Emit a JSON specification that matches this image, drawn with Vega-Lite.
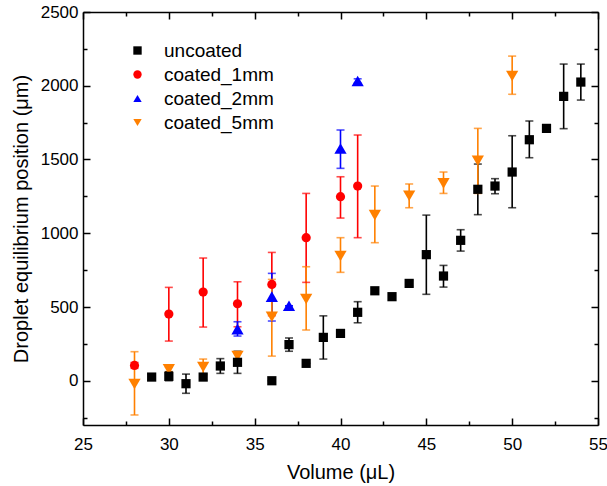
{
  "$schema": "https://vega.github.io/schema/vega-lite/v6.json",
  "autosize": "none",
  "width": 515,
  "height": 413,
  "padding": {"left": 83, "top": 12, "right": 9, "bottom": 61},
  "background": "white",
  "config": {
    "view": {"stroke": null},
    "font": "Liberation Sans",
    "axis": {
      "domainColor": "black",
      "domainWidth": 1.5,
      "tickColor": "black",
      "tickWidth": 1.5,
      "grid": false,
      "labelColor": "black",
      "titleColor": "black",
      "labelFont": "Liberation Sans",
      "titleFont": "Liberation Sans",
      "labelFontSize": 17,
      "titleFontSize": 20,
      "titleFontWeight": "normal"
    },
    "legend": {
      "labelFont": "Liberation Sans",
      "labelFontSize": 19,
      "labelColor": "black"
    }
  },
  "data": {
    "values": [
      {"series": "uncoated", "volume": 29, "position": 25, "lo": 5, "hi": 45},
      {"series": "uncoated", "volume": 30, "position": 30, "lo": 0, "hi": 60},
      {"series": "uncoated", "volume": 31, "position": -20, "lo": -85, "hi": 45},
      {"series": "uncoated", "volume": 32, "position": 25, "lo": 5, "hi": 45},
      {"series": "uncoated", "volume": 33, "position": 100, "lo": 50, "hi": 150},
      {"series": "uncoated", "volume": 34, "position": 125, "lo": 50, "hi": 200},
      {"series": "uncoated", "volume": 36, "position": 0, "lo": 0, "hi": 0},
      {"series": "uncoated", "volume": 37, "position": 245, "lo": 200, "hi": 290},
      {"series": "uncoated", "volume": 38, "position": 118, "lo": 118, "hi": 118},
      {"series": "uncoated", "volume": 39, "position": 294, "lo": 147, "hi": 440},
      {"series": "uncoated", "volume": 40, "position": 321, "lo": 321, "hi": 321},
      {"series": "uncoated", "volume": 41, "position": 464, "lo": 393, "hi": 536},
      {"series": "uncoated", "volume": 42, "position": 610, "lo": 592, "hi": 628},
      {"series": "uncoated", "volume": 43, "position": 570, "lo": 552, "hi": 588},
      {"series": "uncoated", "volume": 44, "position": 660, "lo": 642, "hi": 678},
      {"series": "uncoated", "volume": 45, "position": 855, "lo": 586, "hi": 1123},
      {"series": "uncoated", "volume": 46, "position": 710, "lo": 635, "hi": 782},
      {"series": "uncoated", "volume": 47, "position": 952, "lo": 879, "hi": 1024},
      {"series": "uncoated", "volume": 48, "position": 1298, "lo": 1126, "hi": 1469},
      {"series": "uncoated", "volume": 49, "position": 1320, "lo": 1268, "hi": 1370},
      {"series": "uncoated", "volume": 50, "position": 1415, "lo": 1173, "hi": 1661},
      {"series": "uncoated", "volume": 51, "position": 1634, "lo": 1512, "hi": 1761},
      {"series": "uncoated", "volume": 52, "position": 1711, "lo": 1711, "hi": 1711},
      {"series": "uncoated", "volume": 53, "position": 1928, "lo": 1709, "hi": 2147},
      {"series": "uncoated", "volume": 54, "position": 2025, "lo": 1903, "hi": 2147},
      {"series": "coated_1mm", "volume": 28, "position": 104, "lo": 84, "hi": 124},
      {"series": "coated_1mm", "volume": 30, "position": 452, "lo": 269, "hi": 633},
      {"series": "coated_1mm", "volume": 32, "position": 601, "lo": 364, "hi": 832},
      {"series": "coated_1mm", "volume": 34, "position": 522, "lo": 366, "hi": 671},
      {"series": "coated_1mm", "volume": 36, "position": 653, "lo": 441, "hi": 870},
      {"series": "coated_1mm", "volume": 38, "position": 970, "lo": 667, "hi": 1270},
      {"series": "coated_1mm", "volume": 40, "position": 1248, "lo": 1103, "hi": 1383},
      {"series": "coated_1mm", "volume": 41, "position": 1320, "lo": 970, "hi": 1666},
      {"series": "coated_2mm", "volume": 34, "position": 350, "lo": 303, "hi": 400},
      {"series": "coated_2mm", "volume": 36, "position": 570, "lo": 405, "hi": 728},
      {"series": "coated_2mm", "volume": 37, "position": 508, "lo": 508, "hi": 508},
      {"series": "coated_2mm", "volume": 40, "position": 1575, "lo": 1440, "hi": 1700},
      {"series": "coated_2mm", "volume": 41, "position": 2032, "lo": 2017, "hi": 2047},
      {"series": "coated_5mm", "volume": 28, "position": -22, "lo": -232, "hi": 197},
      {"series": "coated_5mm", "volume": 30, "position": 77, "lo": 62, "hi": 92},
      {"series": "coated_5mm", "volume": 32, "position": 93, "lo": 40, "hi": 147},
      {"series": "coated_5mm", "volume": 34, "position": 167, "lo": 147, "hi": 187},
      {"series": "coated_5mm", "volume": 36, "position": 434, "lo": 167, "hi": 687},
      {"series": "coated_5mm", "volume": 38, "position": 554, "lo": 344, "hi": 773},
      {"series": "coated_5mm", "volume": 40, "position": 846, "lo": 735, "hi": 970},
      {"series": "coated_5mm", "volume": 42, "position": 1123, "lo": 936, "hi": 1320},
      {"series": "coated_5mm", "volume": 44, "position": 1254, "lo": 1173, "hi": 1334},
      {"series": "coated_5mm", "volume": 46, "position": 1338, "lo": 1270, "hi": 1415},
      {"series": "coated_5mm", "volume": 48, "position": 1492, "lo": 1270, "hi": 1711},
      {"series": "coated_5mm", "volume": 50, "position": 2066, "lo": 1942, "hi": 2201}
    ]
  },
  "resolve": {
    "axis": {"x": "independent", "y": "independent"},
    "legend": {"color": "independent", "shape": "independent"}
  },
  "layer": [
    {
      "mark": {"type": "rule", "strokeWidth": 1.6},
      "encoding": {
        "x": {
          "field": "volume", "type": "quantitative",
          "scale": {"domain": [25, 55], "nice": false, "zero": false},
          "axis": {
            "orient": "bottom",
            "title": "Volume (μL)",
            "titlePadding": 10,
            "values": [25, 27.5, 30, 32.5, 35, 37.5, 40, 42.5, 45, 47.5, 50, 52.5, 55],
            "labelExpr": "datum.value % 5 === 0 ? datum.label : ''",
            "tickSize": {"condition": {"test": "datum.value % 5 === 0", "value": -7}, "value": -4},
            "labelPadding": 18,
            "labelFlush": false
          }
        },
        "y": {
          "field": "lo", "type": "quantitative",
          "scale": {"domain": [-300, 2500], "nice": false, "zero": false},
          "axis": {
            "orient": "left",
            "title": "Droplet equilibrium position (μm)",
            "titlePadding": 9,
            "format": "d",
            "values": [-250, 0, 250, 500, 750, 1000, 1250, 1500, 1750, 2000, 2250, 2500],
            "labelExpr": "datum.value % 500 === 0 ? datum.label : ''",
            "tickSize": {"condition": {"test": "datum.value % 500 === 0", "value": -7}, "value": -4},
            "labelPadding": 12,
            "labelFlush": false
          }
        },
        "y2": {"field": "hi"},
        "color": {"field": "series", "type": "nominal", "legend": null,
          "scale": {"domain": ["uncoated", "coated_1mm", "coated_2mm", "coated_5mm"], "range": ["#000000", "#FF0000", "#0000FF", "#FF8000"]}}
      }
    },
    {
      "mark": {"type": "tick", "orient": "horizontal", "size": 8, "thickness": 1.6},
      "encoding": {
        "x": {"field": "volume", "type": "quantitative", "axis": null},
        "y": {"field": "lo", "type": "quantitative", "axis": null},
        "color": {"field": "series", "type": "nominal", "legend": null}
      }
    },
    {
      "mark": {"type": "tick", "orient": "horizontal", "size": 8, "thickness": 1.6},
      "encoding": {
        "x": {"field": "volume", "type": "quantitative", "axis": null},
        "y": {"field": "hi", "type": "quantitative", "axis": null},
        "color": {"field": "series", "type": "nominal", "legend": null}
      }
    },
    {
      "transform": [{"filter": "datum.series === 'coated_2mm' || datum.series === 'coated_5mm'"}],
      "mark": {"type": "point", "filled": true, "opacity": 1, "strokeWidth": 0, "size": 150},
      "encoding": {
        "x": {"field": "volume", "type": "quantitative", "axis": null},
        "y": {"field": "position", "type": "quantitative", "axis": null},
        "color": {"field": "series", "type": "nominal", "legend": null},
        "shape": {"field": "series", "type": "nominal", "legend": null}
      }
    },
    {
      "transform": [{"filter": "datum.series === 'uncoated' || datum.series === 'coated_1mm'"}],
      "mark": {"type": "point", "filled": true, "opacity": 1, "strokeWidth": 0, "size": 85},
      "encoding": {
        "x": {
          "field": "volume", "type": "quantitative",
          "axis": {
            "orient": "top", "title": null, "labels": false,
            "values": [25, 27.5, 30, 32.5, 35, 37.5, 40, 42.5, 45, 47.5, 50, 52.5, 55],
            "tickSize": {"condition": {"test": "datum.value % 5 === 0", "value": -7}, "value": -4}
          }
        },
        "y": {
          "field": "position", "type": "quantitative",
          "axis": {
            "orient": "right", "title": null, "labels": false,
            "values": [-250, 0, 250, 500, 750, 1000, 1250, 1500, 1750, 2000, 2250, 2500],
            "tickSize": {"condition": {"test": "datum.value % 500 === 0", "value": -7}, "value": -4}
          }
        },
        "color": {
          "field": "series", "type": "nominal",
          "legend": {
            "title": null, "orient": "none", "legendX": 45, "legendY": 29,
            "symbolSize": 70, "labelOffset": 17, "rowPadding": 4,
            "symbolStrokeWidth": 0
          }
        },
        "shape": {
          "field": "series", "type": "nominal",
          "scale": {"domain": ["uncoated", "coated_1mm", "coated_2mm", "coated_5mm"], "range": ["square", "circle", "triangle-up", "triangle-down"]},
          "legend": {
            "title": null, "orient": "none", "legendX": 45, "legendY": 29,
            "symbolSize": 70, "labelOffset": 17, "rowPadding": 4,
            "symbolStrokeWidth": 0
          }
        }
      }
    }
  ]
}
